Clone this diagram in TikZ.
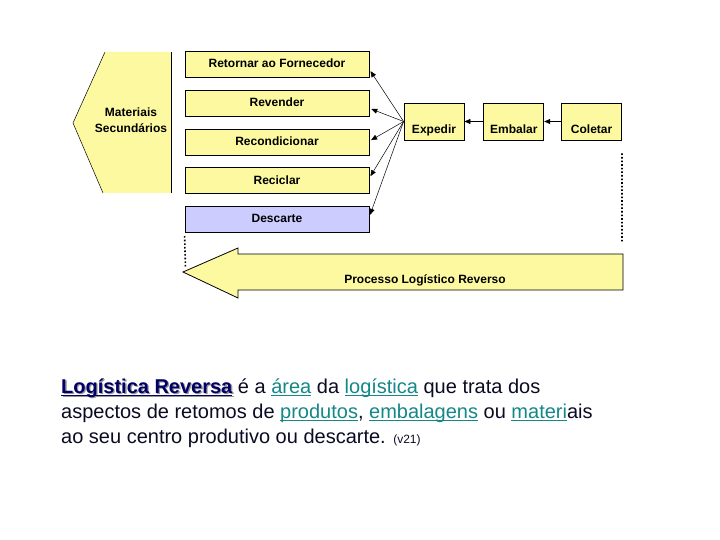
\documentclass[tikz,border=0pt]{standalone}
\usepackage{fontspec}
\setmainfont{Liberation Sans}
\usepackage{xcolor}
\usetikzlibrary{arrows.meta,positioning}

\definecolor{amarelo}{RGB}{252,249,160}
\definecolor{lilas}{RGB}{204,204,255}
\definecolor{marinho}{RGB}{0,0,102}
\definecolor{verdeazul}{RGB}{20,135,135}
\definecolor{corpo}{RGB}{10,10,35}
\definecolor{sombra}{RGB}{150,150,150}

\newcommand{\sublinhar}[1]{\setbox0\hbox{#1}\rlap{\rule[-2.6pt]{\wd0}{1pt}}\box0}
\newcommand{\lnk}[1]{{\color{verdeazul}\sublinhar{#1}}}
\newcommand{\sombra}[1]{{\bfseries\rlap{\kern1.3pt\raisebox{-1.3pt}{\color{sombra}\sublinhar{#1}}}\color{marinho}\sublinhar{#1}}}

\begin{document}
\begin{tikzpicture}[
  x=1pt, y=-1pt,
  font=\fontsize{12}{15.5}\selectfont\bfseries,
  destino/.style={
    rectangle, draw, fill=amarelo, line width=0.8pt,
    minimum width=184pt, minimum height=26pt,
    text height=8.5pt, text depth=2pt
  },
  etapa/.style={
    rectangle, draw, fill=amarelo, line width=0.8pt,
    minimum width=60pt, minimum height=37pt,
    text height=26pt, text depth=2pt
  },
  texto/.style={
    align=left, inner sep=0pt, text=corpo,
    font=\fontsize{20}{25}\selectfont
  },
  seta/.style={-{Triangle[length=6pt,width=5pt]}, line width=0.5pt},
  pontos/.style={dotted, line width=1.6pt},
  node distance=12pt
]
\useasboundingbox (0,0) rectangle (720,540);

% Materiais secundarios
\fill[amarelo] (105,52) -- (171,52) -- (171,193) -- (103,193) -- (73,123) -- cycle;
\draw[line width=0.5pt] (105,52) -- (73,123) -- (103,193);
\draw[line width=0.8pt] (171,52) -- (171,193);
\node[align=center] (MS) at (131,120) {Materiais\\Secundários};

% Destinos
\node[destino] (RF) at (277,64.5) {Retornar ao Fornecedor};
\node[destino, below=of RF] (RV) {Revender};
\node[destino, below=of RV] (RC) {Recondicionar};
\node[destino, below=of RC] (RR) {Reciclar};
\node[destino, below=of RR, fill=lilas] (DC) {Descarte};

% Etapas
\node[etapa] (EX) at (434,121.5) {Expedir};
\node[etapa, right=19pt of EX] (EM) {Embalar};
\node[etapa, right=17pt of EM] (CO) {Coletar};

% Seta do processo
\filldraw[fill=amarelo, line width=0.8pt] (623,254) -- (238,254) -- (238,248) -- (183,272)
  -- (238,298) -- (238,290) -- (623,290) -- cycle;
\node (PLR) at (425,280) {Processo Logístico Reverso};
\coordinate (pontaPLR) at (185.5,268);
\coordinate (caudaPLR) at (622,243);

% Setas
\draw[seta] (CO) -- (EM);
\draw[seta] (EM) -- (EX);
\draw[seta, shorten >=2pt] (EX.west) -- ([yshift=-5pt]RF.east);
\draw[seta, shorten >=2pt] (EX.west) -- ([yshift=-5pt]RV.east);
\draw[seta, shorten >=2pt] (EX.west) -- ([yshift=1pt]RC.east);
\draw[seta, shorten >=2pt] (EX.west) -- ([yshift=3pt]RR.east);
\draw[seta, shorten >=2pt] (EX.west) -- ([yshift=3pt]DC.east);

% Pontilhados
\draw[pontos] ([yshift=-13pt]CO.south east) -- (caudaPLR);
\draw[pontos] ([yshift=-3pt]DC.south west) -- (pontaPLR);

% Texto
\node[texto, anchor=base west] (legenda) at (61,443) {\sombra{Logística Reversa} é a \lnk{área} da \lnk{logística} que trata dos\\
aspectos de retomos de \lnk{produtos}, \lnk{embalagens} ou \lnk{materi}ais\\
ao seu centro produtivo ou descarte. {\fontsize{12}{14}\selectfont(v21)}};
\end{tikzpicture}
\end{document}
